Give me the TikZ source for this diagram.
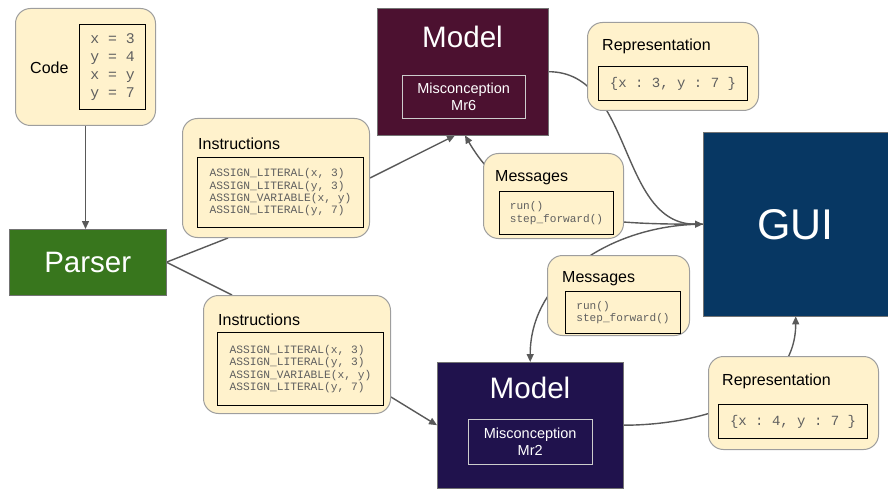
\documentclass[tikz,border=0pt]{standalone}
\usepackage{fontspec}
\setmainfont{Liberation Sans}
\setmonofont{Liberation Mono}
\usetikzlibrary{arrows.meta,positioning}
\pgfdeclarelayer{background}
\pgfsetlayers{background,main}

\definecolor{cardfill}{HTML}{FFF2CC}
\definecolor{cardline}{HTML}{9E9E9E}
\definecolor{wireline}{HTML}{595959}
\definecolor{codegray}{HTML}{5F5F5F}
\definecolor{parsergreen}{HTML}{38761D}
\definecolor{modelwine}{HTML}{4C1130}
\definecolor{modelindigo}{HTML}{20124D}
\definecolor{guiblue}{HTML}{073763}

\tikzset{%
  card/.style={draw=cardline, fill=cardfill, rounded corners=15pt, line width=1pt,
    anchor=north west, inner sep=0pt},%
  codebox/.style={draw=black, line width=1pt, anchor=north west, inner sep=0pt,
    text=codegray, align=left},%
  cardtitle/.style={anchor=base west, inner sep=0pt, font=\fontsize{16}{19}\selectfont},%
  block/.style={draw=black!55, anchor=north west, inner sep=0pt, text=white},%
  misbox/.style={draw=white!80!black, anchor=north west, inner sep=0pt, text=white,
    align=center, font=\fontsize{14.5}{17}\selectfont},%
  wire/.style={draw=wireline, line width=1.4pt},%
  arrowed/.style={-{Triangle[length=8pt,width=7pt]}},%
}

\begin{document}
\begin{tikzpicture}[x=1pt,y=-1pt]
    \useasboundingbox (0,0) rectangle (888,489);%

    % source code and parser
    \node[card, minimum width=140, minimum height=117] (code) at (15,8) {};%
    \node[anchor=west, inner sep=0pt, font=\fontsize{16}{19}\selectfont] (codeTitle) at (30,68) {Code};%
    \node[codebox, minimum width=66, minimum height=85,
      font=\ttfamily\fontsize{14.8}{18}\selectfont] (codeText) at (79,24) {x = 3\\y = 4\\x = y\\y = 7};%
    \node[block, fill=parsergreen, minimum width=157, minimum height=66,
      font=\fontsize{29.5}{34}\selectfont] (parser) at (9,229) {Parser};%

    % instruction lists
    \node[card, minimum width=187, minimum height=119] (instrA) at (182,118) {};%
    \node[cardtitle] (instrATitle) at (198,150) {Instructions};%
    \node[codebox, minimum width=166, minimum height=70,
      font=\ttfamily\fontsize{11.25}{12.3}\selectfont] (instrAText) at (197,157)
      {ASSIGN\_LITERAL(x, 3)\\ASSIGN\_LITERAL(y, 3)\\ASSIGN\_VARIABLE(x, y)\\ASSIGN\_LITERAL(y, 7)};%
    \node[card, minimum width=187, minimum height=118] (instrB) at (203,295) {};%
    \node[cardtitle] (instrBTitle) at (218,325) {Instructions};%
    \node[codebox, minimum width=166, minimum height=73,
      font=\ttfamily\fontsize{11.25}{12.3}\selectfont] (instrBText) at (217,332)
      {ASSIGN\_LITERAL(x, 3)\\ASSIGN\_LITERAL(y, 3)\\ASSIGN\_VARIABLE(x, y)\\ASSIGN\_LITERAL(y, 7)};%

    % models
    \node[block, fill=modelwine, minimum width=171, minimum height=127] (modelA) at (377,8) {};%
    \node[text=white, font=\fontsize{29.6}{34}\selectfont] (modelATitle) at (462.5,37) {Model};%
    \node[misbox, minimum width=123, minimum height=43] (misA) at (402,75) {Misconception\\Mr6};%
    \node[block, fill=modelindigo, minimum width=186, minimum height=126] (modelB) at (437,362) {};%
    \node[text=white, font=\fontsize{29.6}{34}\selectfont] (modelBTitle) at (530,388) {Model};%
    \node[misbox, minimum width=124, minimum height=45] (misB) at (468,419) {Misconception\\Mr2};%

    % gui
    \node[block, fill=guiblue, minimum width=185, minimum height=184,
      font=\fontsize{43}{48}\selectfont] (gui) at (703,132) {GUI};%

    % messages
    \node[card, minimum width=140, minimum height=85] (msgA) at (483,153) {};%
    \node[cardtitle] (msgATitle) at (495,182) {Messages};%
    \node[codebox, minimum width=114, minimum height=43,
      font=\ttfamily\fontsize{11.1}{12.5}\selectfont] (msgAText) at (499,191) {run()\\step\_forward()};%
    \node[card, minimum width=142, minimum height=80] (msgB) at (547,255) {};%
    \node[cardtitle] (msgBTitle) at (562,282) {Messages};%
    \node[codebox, minimum width=115, minimum height=42,
      font=\ttfamily\fontsize{11.1}{12.5}\selectfont] (msgBText) at (565,291) {run()\\step\_forward()};%

    % representations
    \node[card, minimum width=171, minimum height=88] (repA) at (587,22) {};%
    \node[cardtitle] (repATitle) at (602,51) {Representation};%
    \node[codebox, minimum width=149, minimum height=34,
      font=\ttfamily\fontsize{14}{16}\selectfont] (repAText) at (598,66) {\{x : 3, y : 7 \}};%
    \node[card, minimum width=170, minimum height=93] (repB) at (708,356) {};%
    \node[cardtitle] (repBTitle) at (722,385) {Representation};%
    \node[codebox, minimum width=149, minimum height=34,
      font=\ttfamily\fontsize{14}{16}\selectfont] (repBText) at (718,404) {\{x : 4, y : 7 \}};%

    % connectors, behind the cards
    \begin{pgfonlayer}{background}
      \draw[wire, arrowed] (code.south) -- (code.south |- parser.north);%
      \draw[wire] (parser.east) -- ([xshift=46]instrA.south west);%
      \draw[wire, arrowed] (instrA.east) -- ([xshift=78]modelA.south west);%
      \draw[wire] (parser.east) -- ([xshift=29]instrB.north west);%
      \draw[wire, arrowed] ([yshift=17]instrB.south east) -- (modelB.west);%
      \draw[wire, arrowed] (modelA.east) to[out=0, in=180] (gui.west);%
      \draw[wire, arrowed] (gui.west) to[out=180, in=-60] ([xshift=88]modelA.south west);%
      \draw[wire, arrowed] (gui.west) to[out=180, in=90] (modelB.north);%
      \draw[wire, arrowed] (modelB.east) to[out=0, in=-90] (gui.south);%
    \end{pgfonlayer}
\end{tikzpicture}
\end{document}
